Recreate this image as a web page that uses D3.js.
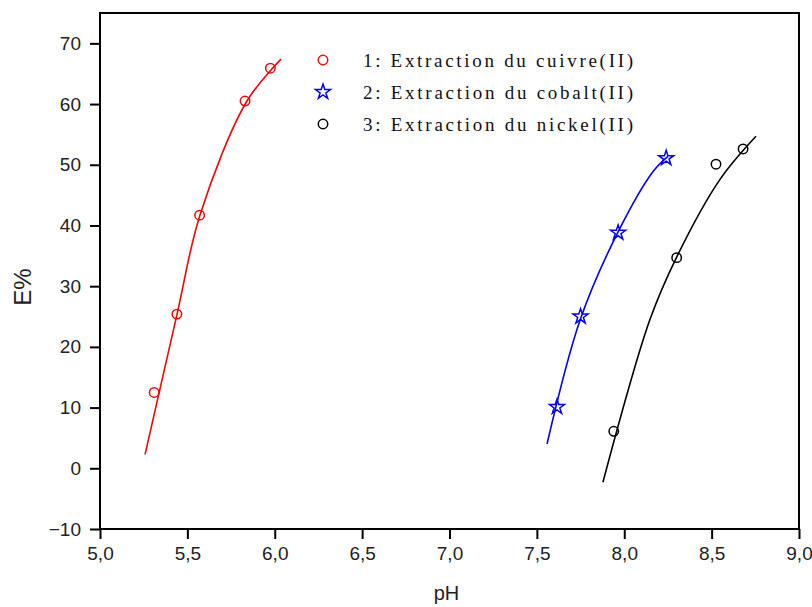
<!DOCTYPE html>
<html>
<head>
<meta charset="utf-8">
<script src="https://cdn.jsdelivr.net/npm/d3@7"></script>
<style>
  body { margin: 0; background: #fff; }
  svg { display: block; }
</style>
</head>
<body>
<script>
// ---- data ----
const seriesNames = ["1: Extraction du cuivre(II)", "2: Extraction du cobalt(II)", "3: Extraction du nickel(II)"];
const seriesColors = ["#ff0000", "#0000ff", "#000000"];

const cuPH = [5.31, 5.44, 5.57, 5.83, 5.975];
const cuE  = [12.5, 25.4, 41.7, 60.5, 65.9];
const coPH = [7.615, 7.75, 7.965, 8.24];
const coE  = [10.1, 25.0, 38.8, 51.1];
const niPH = [7.94, 8.30, 8.525, 8.68];
const niE  = [6.1, 34.7, 50.1, 52.6];

// fitted curves
const cuFitPH = [5.258, 5.441, 5.572, 5.841, 6.036];
const cuFitE  = [2.3, 25.4, 41.7, 60.5, 67.4];
const coFitPH = [7.558, 7.747, 7.964, 8.165, 8.25];
const coFitE  = [4.0, 24.4, 38.9, 48.9, 51.4];
const niFitPH = [7.878, 8.147, 8.30, 8.548, 8.754];
const niFitE  = [-2.3, 24.5, 34.8, 47.6, 54.7];

const xTicks = [5.0, 5.5, 6.0, 6.5, 7.0, 7.5, 8.0, 8.5, 9.0];
const yTicks = [-10, 0, 10, 20, 30, 40, 50, 60, 70];

// ---- layout ----
const W = 812, H = 607;
const svg = d3.select("body").append("svg").attr("width", W).attr("height", H);

const x = d3.scaleLinear().domain([5, 9]).range([100, 799]);
const y = d3.scaleLinear().domain([-10, 75]).range([529, 13]);

const fmt = d => d3.format(".1f")(d).replace(".", ",");

// frame
svg.append("rect")
  .attr("x", x(5)).attr("y", y(75))
  .attr("width", x(9) - x(5)).attr("height", y(-10) - y(75))
  .attr("fill", "none").attr("stroke", "#000").attr("stroke-width", 2);

const xAxis = svg.append("g").attr("transform", `translate(0,${y(-10)})`)
  .call(d3.axisBottom(x).tickValues(xTicks).tickFormat(fmt).tickSize(10).tickPadding(8));
const yAxis = svg.append("g").attr("transform", `translate(${x(5)},0)`)
  .call(d3.axisLeft(y).tickValues(yTicks).tickFormat(d3.format("d")).tickSize(10).tickPadding(9));

[xAxis, yAxis].forEach(g => {
  g.select(".domain").remove();
  g.selectAll(".tick line").attr("stroke", "#000").attr("stroke-width", 2);
  g.selectAll(".tick text").attr("fill", "#222").style("font-family", "Liberation Sans, Arial, sans-serif").style("font-size", "19px");
});

// axis titles
svg.append("text").attr("x", x(7.0) - 3).attr("y", 600)
  .attr("text-anchor", "middle").style("font-family", "Liberation Sans, Arial, sans-serif")
  .style("font-size", "20px").attr("fill", "#222").text("pH");
svg.append("text").attr("transform", "translate(31,287) rotate(-90)")
  .attr("text-anchor", "middle").style("font-family", "Liberation Sans, Arial, sans-serif")
  .style("font-size", "24px").attr("fill", "#222").text("E%");

// curves
const line = d3.line().x(d => x(d[0])).y(d => y(d[1])).curve(d3.curveCatmullRom.alpha(0.5));
const fits = [
  d3.zip(cuFitPH, cuFitE),
  d3.zip(coFitPH, coFitE),
  d3.zip(niFitPH, niFitE)
];
fits.forEach((pts, i) => {
  svg.append("path").attr("d", line(pts)).attr("fill", "none")
    .attr("stroke", seriesColors[i]).attr("stroke-width", 1.6);
});

// markers
const circle = d3.symbol(d3.symbolCircle).size(70);
const star = d3.symbol(d3.symbolStar).size(70);
const pts = [d3.zip(cuPH, cuE), d3.zip(coPH, coE), d3.zip(niPH, niE)];
const syms = [circle, star, circle];
pts.forEach((p, i) => {
  svg.append("g").selectAll("path").data(p).join("path")
    .attr("d", syms[i]())
    .attr("transform", d => `translate(${x(d[0])},${y(d[1])})`)
    .attr("fill", "none").attr("stroke", seriesColors[i]).attr("stroke-width", 1.5);
});

// legend
const leg = svg.append("g");
seriesNames.forEach((name, i) => {
  const cy = 60 + i * 32;
  leg.append("path").attr("d", syms[i]())
    .attr("transform", `translate(323,${cy})`)
    .attr("fill", "none").attr("stroke", seriesColors[i]).attr("stroke-width", 1.5);
  leg.append("text").attr("x", 363).attr("y", cy + 7)
    .style("font-family", "Liberation Serif, Times New Roman, serif")
    .style("font-size", "19px").attr("fill", "#111")
    .attr("textLength", 270).attr("lengthAdjust", "spacing")
    .text(name);
});
</script>
</body>
</html>
